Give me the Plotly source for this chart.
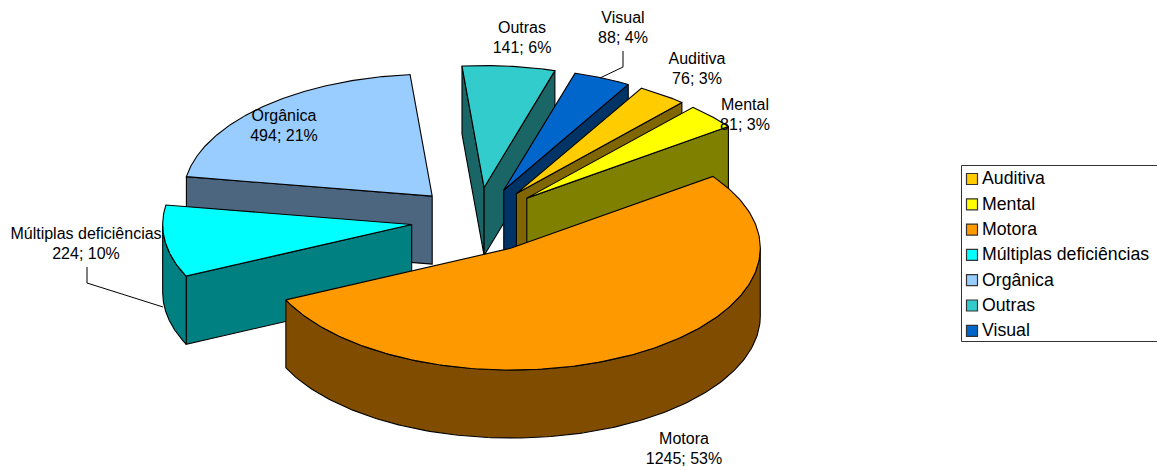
import numpy as np
import plotly.graph_objects as go

# --- data ---
categories = ["Auditiva", "Mental", "Motora", "Múltiplas deficiências", "Orgânica", "Outras", "Visual"]
values = [76, 81, 1245, 224, 494, 141, 88]
percents = [3, 3, 53, 10, 21, 6, 4]
top_colors = ["#FFCC00", "#FFFF00", "#FF9900", "#00FFFF", "#99CCFF", "#33CCCC", "#0066CC"]
side_colors = ["#806600", "#808000", "#804D00", "#008080", "#4D6680", "#1A6666", "#003366"]

# --- projection of the exploded 3D pie ---
CX, CY = 477.5, 220
RX, RY = 249, 122
DEPTH = 68
EXPLODE = 0.267
START_DEG = 30.0
draw_order = ["Orgânica", "Outras", "Visual", "Auditiva", "Mental", "Múltiplas deficiências", "Motora"]

# --- label placement (centre of each text line) ---
label_pos = {
    "Auditiva": (697, 59.5), "Mental": (745, 105.5), "Motora": (684, 439.5),
    "Múltiplas deficiências": (86, 234.5), "Orgânica": (284, 116.5),
    "Outras": (522, 28.5), "Visual": (623, 18.5),
}
LINE_STEP = 20
FONT = "Liberation Sans, Arial, sans-serif"

fig = go.Figure()


def rim(theta_deg, ox, oy):
    t = np.radians(theta_deg)
    return ox + RX * np.sin(t), oy - RY * np.cos(t)


def face(xs, ys, color, name):
    fig.add_trace(go.Scatter(
        x=list(xs) + [xs[0]], y=list(ys) + [ys[0]], mode="lines", fill="toself",
        fillcolor=color, line=dict(color="black", width=1.1), name=name,
        hoverinfo="skip", showlegend=False))


total = sum(values)
edges = START_DEG + np.cumsum([0] + [v / total * 360 for v in values])
slices = {c: (edges[i], edges[i + 1], i) for i, c in enumerate(categories)}

for name in draw_order:
    a, b, i = slices[name]
    mid = np.radians((a + b) / 2)
    ox = CX + EXPLODE * RX * np.sin(mid)
    oy = CY - EXPLODE * RY * np.cos(mid)
    top, side = top_colors[i], side_colors[i]

    for theta, visible in ((a, np.sin(np.radians(a)) < 0), (b, np.sin(np.radians(b)) > 0)):
        if visible:
            rx_, ry_ = rim(theta, ox, oy)
            face([ox, rx_, rx_, ox], [oy, ry_, ry_ + DEPTH, oy + DEPTH], side, name)

    lo, hi = max(a, 90), min(b, 270)
    if hi > lo:
        th = np.linspace(lo, hi, 160)
        ax, ay = rim(th, ox, oy)
        face(np.r_[ax, ax[::-1]], np.r_[ay, ay[::-1] + DEPTH], side, name)

    th = np.linspace(a, b, 200)
    ax, ay = rim(th, ox, oy)
    face(np.r_[ox, ax], np.r_[oy, ay], top, name)

# leader lines
leaders = [([623, 623, 600], [51, 67, 78]), ([87, 87, 163], [267, 283, 307])]
for lx, ly in leaders:
    fig.add_trace(go.Scatter(x=lx, y=ly, mode="lines", line=dict(color="black", width=1),
                             hoverinfo="skip", showlegend=False))

# data labels
tx, ty, tt = [], [], []
for c, v, p in zip(categories, values, percents):
    x, y = label_pos[c]
    tx += [x, x]
    ty += [y, y + LINE_STEP]
    tt += [c, f"{v}; {p}%"]
fig.add_trace(go.Scatter(x=tx, y=ty, text=tt, mode="text", textposition="middle center",
                         textfont=dict(family=FONT, size=16, color="black"),
                         hoverinfo="skip", showlegend=False))

# key
KEY_X, KEY_TEXT_X, KEY_Y0, KEY_STEP = 972, 982, 179, 25.3
key_y = [KEY_Y0 + k * KEY_STEP for k in range(len(categories))]
fig.add_shape(type="rect", x0=961.5, x1=1160, y0=165.5, y1=341.5,
              line=dict(color="#333333", width=1), fillcolor="white", layer="below")
fig.add_trace(go.Scatter(
    x=[KEY_X] * len(categories), y=key_y, mode="markers",
    marker=dict(symbol="square", size=11, color=top_colors, line=dict(color="#333333", width=1.2)),
    hoverinfo="skip", showlegend=False))
fig.add_trace(go.Scatter(
    x=[KEY_TEXT_X] * len(categories), y=[k + 1 for k in key_y], text=categories, mode="text",
    textposition="middle right",
    textfont=dict(family=FONT, size=17.7, color="black"),
    hoverinfo="skip", showlegend=False))

fig.update_layout(
    width=1157, height=466, autosize=False,
    margin=dict(l=0, r=0, t=0, b=0),
    paper_bgcolor="white", plot_bgcolor="white", showlegend=False,
    xaxis=dict(range=[0, 1157], visible=False, fixedrange=True),
    yaxis=dict(range=[466, 0], visible=False, fixedrange=True),
)
fig.write_html("out.html", config={"displayModeBar": False},
               post_script="document.body.style.margin='0';document.body.style.overflow='hidden';")
